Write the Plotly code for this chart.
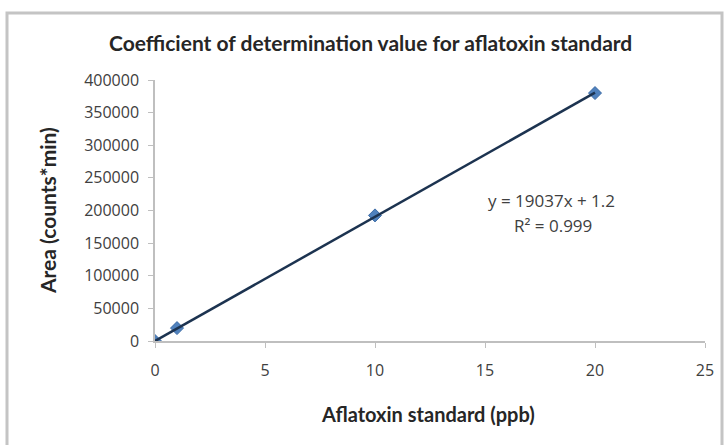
import plotly.graph_objects as go

# Aflatoxin calibration standards
conc_ppb = [0, 1, 10, 20]
area = [0, 19800, 192500, 380000]

# Linear fit reported for the standard curve
slope = 19037
intercept = 1.2
r_squared = 0.999

x_ticks = [0, 5, 10, 15, 20, 25]
y_ticks = [0, 50000, 100000, 150000, 200000, 250000, 300000, 350000, 400000]

W, H = 726, 445
L, R, T, B = 155, 21, 80, 104
pw, ph = W - L - R, H - T - B


def px(x):
    return (x - L) / pw


def py(y):
    return (H - B - y) / ph


fit_x = [min(conc_ppb), max(conc_ppb)]
fit_y = [slope * v + intercept for v in fit_x]

fig = go.Figure()
fig.add_trace(go.Scatter(
    x=conc_ppb, y=area, mode="markers",
    marker=dict(symbol="diamond", size=10, color="#4f81bd",
                line=dict(color="#3a6aa5", width=1)),
    showlegend=False,
))
fig.add_trace(go.Scatter(
    x=fit_x, y=fit_y, mode="lines",
    line=dict(color="#1c3350", width=2.5),
    showlegend=False,
))

tick_font = dict(family="Open Sans", size=16, color="#404040")
label_font = dict(family="Open Sans", size=17, color="#404040")

fig.update_xaxes(
    range=[0, 25], tickvals=x_ticks, ticktext=[str(v) for v in x_ticks],
    showgrid=False, zeroline=False, showline=True, linecolor="#bfbfbf",
    linewidth=1.5, ticks="outside", ticklen=5, tickcolor="#bfbfbf",
    tickfont=tick_font, ticklabelstandoff=9,
)
fig.update_yaxes(
    range=[0, 400000], tickvals=y_ticks, ticktext=[str(v) for v in y_ticks],
    showgrid=False, zeroline=False, showline=True, linecolor="#bfbfbf",
    linewidth=1.5, ticks="outside", ticklen=5, tickcolor="#bfbfbf",
    tickfont=tick_font, ticklabelstandoff=6,
)

eq_text = f"y = {slope}x + {intercept}"
r2_text = f"R² = {r_squared}"

annotations = [
    dict(text="<b>Coefficient of determination value for aflatoxin standard</b>",
         xref="paper", yref="paper", x=px(370), y=py(42), showarrow=False,
         xanchor="center", yanchor="middle",
         font=dict(family="Lato", size=21, color="#262626")),
    dict(text="<b>Aflatoxin standard (ppb)</b>",
         xref="paper", yref="paper", x=px(428), y=py(414), showarrow=False,
         xanchor="center", yanchor="middle",
         font=dict(family="Lato", size=20, color="#262626")),
    dict(text="<b>Area (counts*min)</b>",
         xref="paper", yref="paper", x=px(47), y=py(211), showarrow=False,
         xanchor="center", yanchor="middle", textangle=-90,
         font=dict(family="Lato", size=21, color="#262626")),
    dict(text=eq_text, xref="paper", yref="paper", x=px(551), y=py(200),
         showarrow=False, xanchor="center", yanchor="middle", font=label_font),
    dict(text=r2_text, xref="paper", yref="paper", x=px(553), y=py(225),
         showarrow=False, xanchor="center", yanchor="middle", font=label_font),
]

shapes = [
    dict(type="rect", xref="paper", yref="paper",
         x0=px(7), x1=px(722), y0=py(447), y1=py(13),
         line=dict(color="#c4c4c4", width=3), fillcolor="rgba(0,0,0,0)",
         layer="below"),
]

fig.update_layout(
    width=W, height=H,
    margin=dict(l=L, r=R, t=T, b=B),
    paper_bgcolor="white", plot_bgcolor="white",
    annotations=annotations, shapes=shapes,
)

fig.write_html("out.html")
